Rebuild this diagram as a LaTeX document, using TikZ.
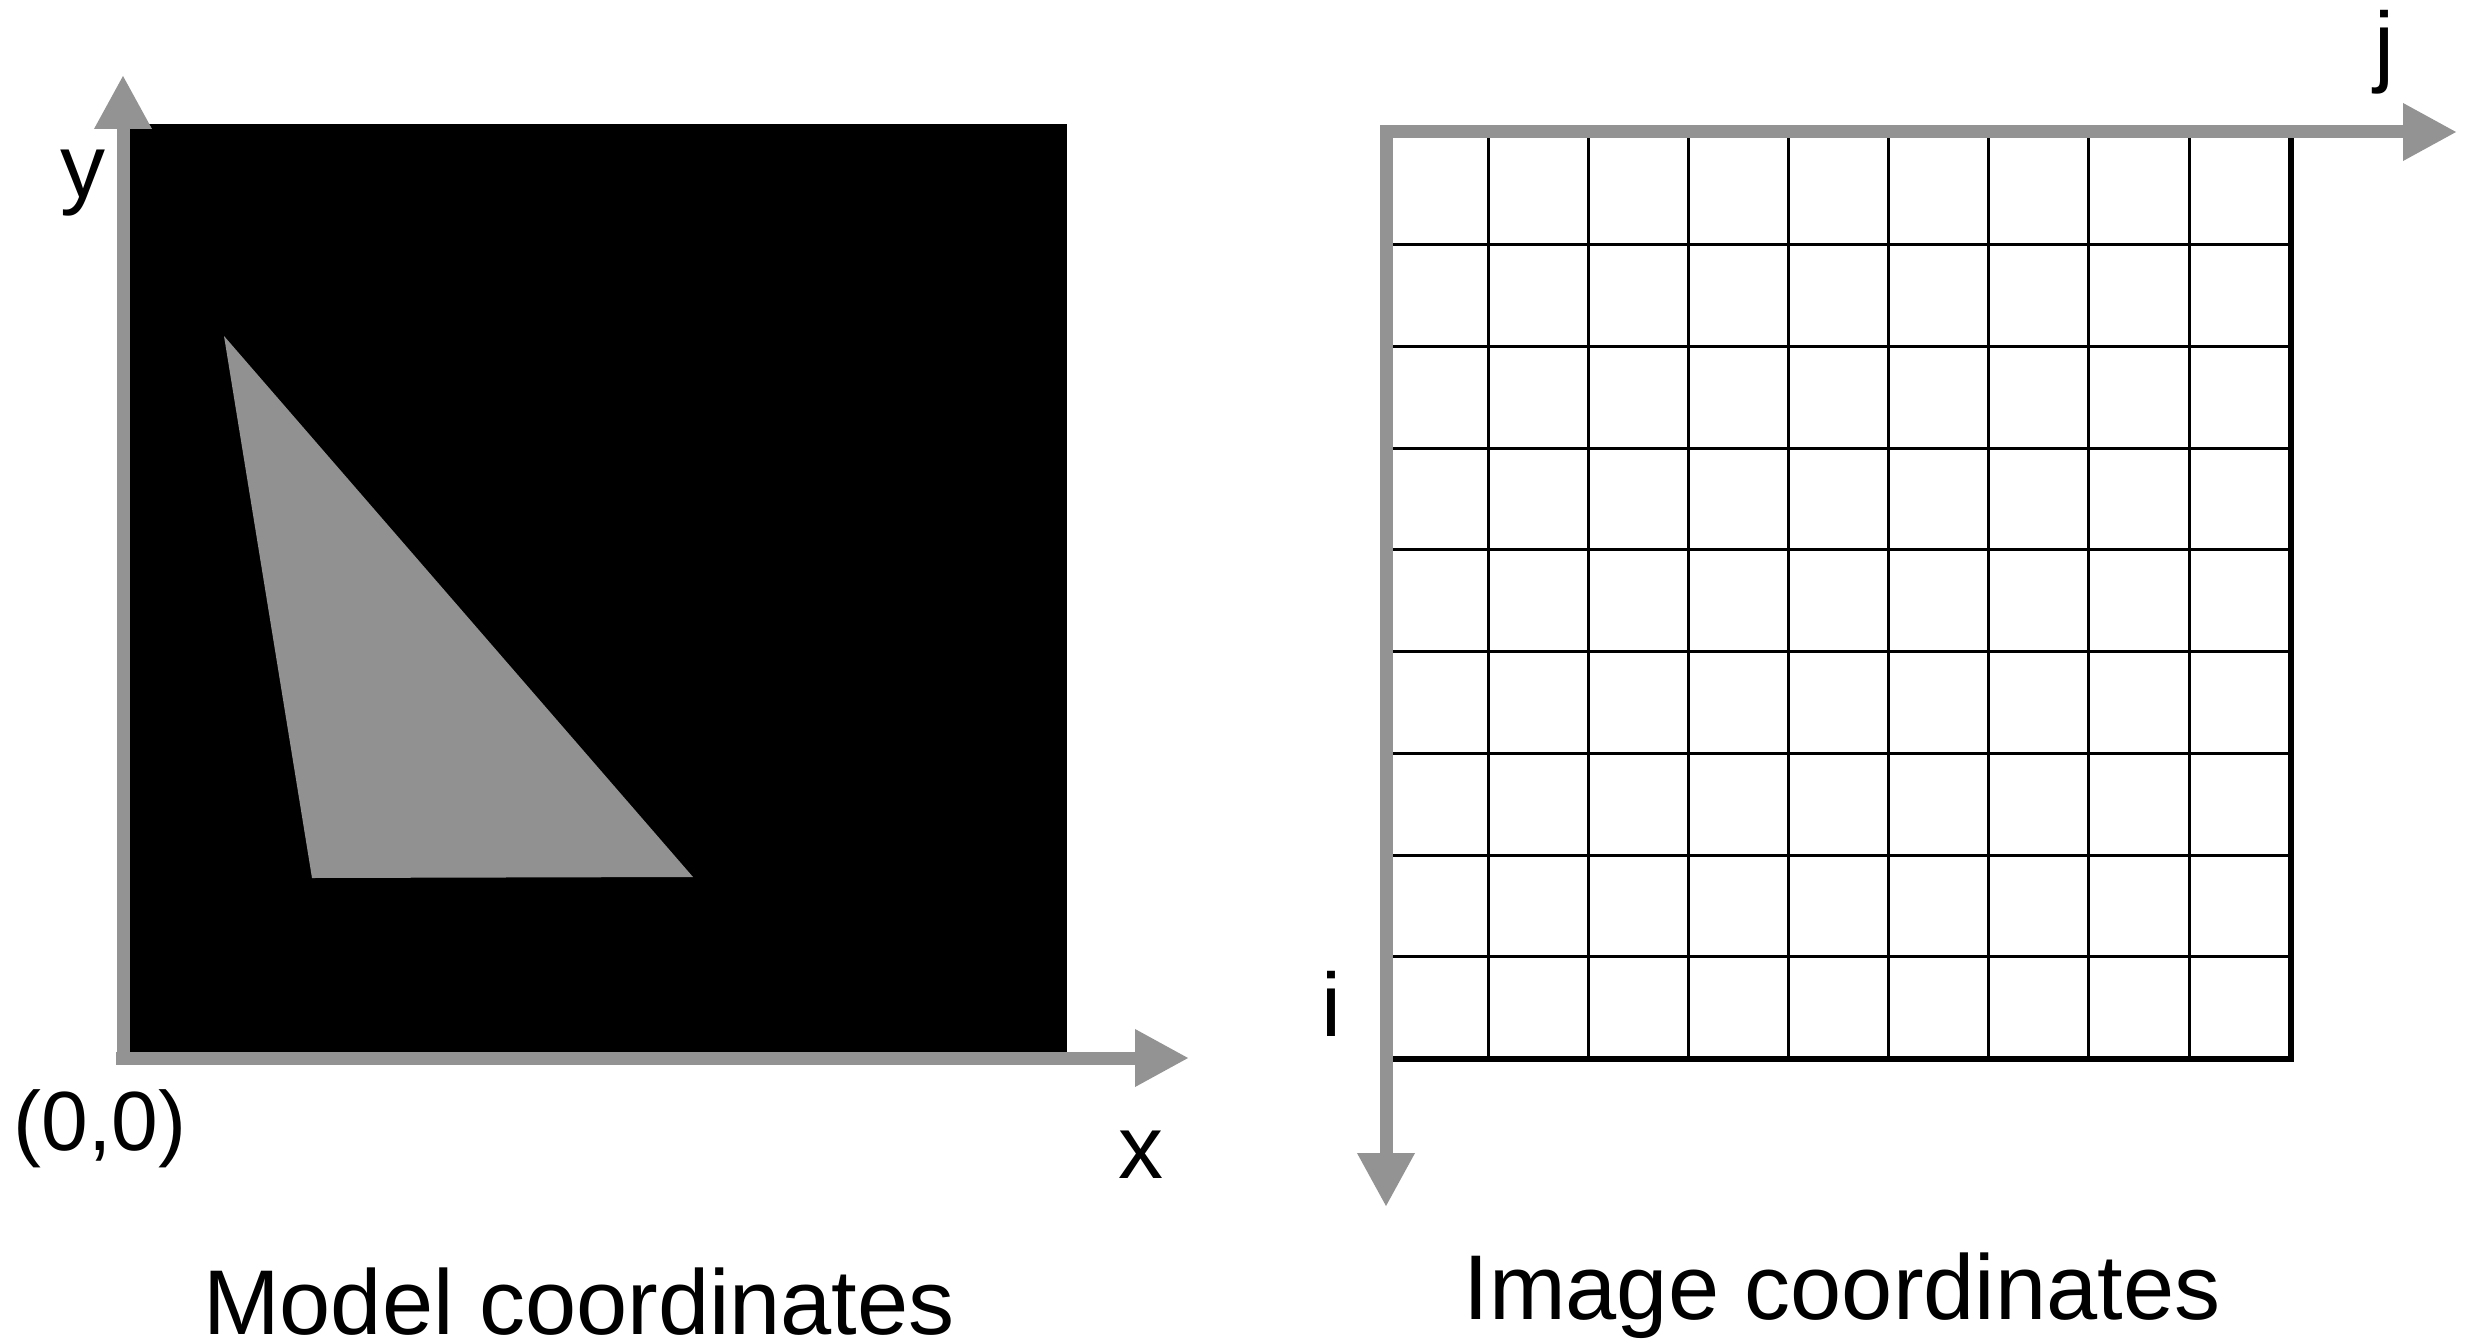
\documentclass[tikz,border=0pt]{standalone}
\usepackage{fontspec}
\setmainfont{Liberation Sans}
\usetikzlibrary{arrows.meta}
\definecolor{axisgray}{RGB}{147,147,147}
\definecolor{trigray}{RGB}{145,145,145}
\tikzset{
  axis/.style={draw=axisgray, line width=13pt, -{Triangle[length=54pt,width=54pt]}},
  thinline/.style={draw=black, line width=3pt},
  thickline/.style={draw=black, line width=6pt},
  lbl/.style={inner sep=0pt, anchor=base, font=\fontsize{90}{100}\selectfont},
  title/.style={inner sep=0pt, anchor=base, font=\fontsize{92}{100}\selectfont}
}
\begin{document}
\begin{tikzpicture}[x=1pt, y=-1pt]
\useasboundingbox (0,0) rectangle (2473,1343);
% ---- left panel ----
\fill[black] (123,124) rectangle (1067,1058);
\fill[trigray] (224,336) -- (312,878) -- (693,877) -- cycle;
\coordinate (yStart) at (123,1065);
\coordinate (yTip) at (123,75);
\coordinate (xStart) at (116,1058);
\coordinate (xTip) at (1189,1058);
\draw[axis] (yStart) -- (yTip);
\draw[axis] (xStart) -- (xTip);
\node[lbl] (ylab) at (83,197) {y};
\node[lbl] (xlab) at (1141,1178) {x};
\node[lbl, font=\fontsize{84}{96}\selectfont] (origin) at (100,1150) {(0,0)};
\node[title] (model) at (579,1334) {Model coordinates};
% ---- right panel ----
\foreach \k in {0,...,7} {
  \draw[thinline] ({1488+100.14*\k},132) -- ({1488+100.14*\k},1059);
  \draw[thinline] (1386,{244.5+101.75*\k}) -- (2291,{244.5+101.75*\k});
}
\draw[thickline] (2291,136) -- (2291,1062);
\draw[thickline] (1386,1059) -- (2294,1059);
\coordinate (iStart) at (1386,126);
\coordinate (iTip) at (1386,1207);
\coordinate (jStart) at (1380,132);
\coordinate (jTip) at (2457,132);
\draw[axis] (iStart) -- (iTip);
\draw[axis] (jStart) -- (jTip);
\node[lbl] (jlab) at (2384,76) {j};
\node[lbl] (ilab) at (1331,1036) {i};
\node[title] (image) at (1842,1319) {Image coordinates};
\end{tikzpicture}
\end{document}
